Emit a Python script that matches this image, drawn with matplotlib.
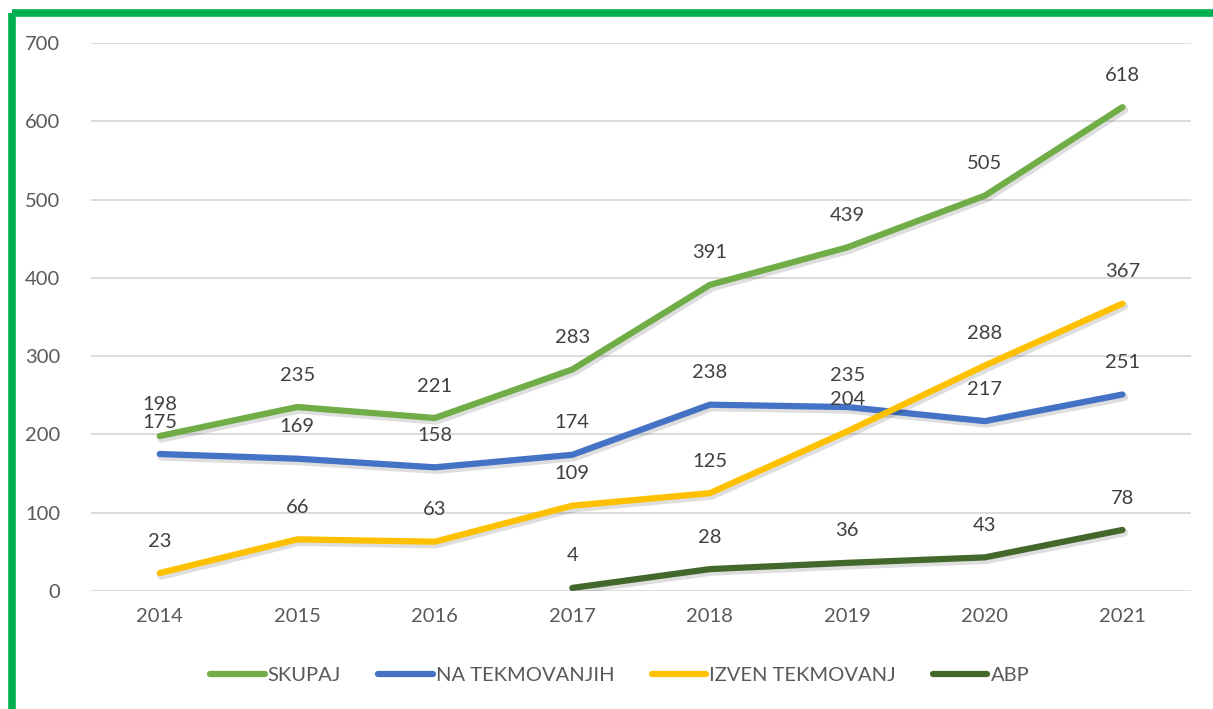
import numpy as np
import matplotlib
matplotlib.use('Agg')
import matplotlib.pyplot as plt
import matplotlib.patheffects as pe
from matplotlib.lines import Line2D

years = ['2014', '2015', '2016', '2017', '2018', '2019', '2020', '2021']
skupaj = [198, 235, 221, 283, 391, 439, 505, 618]
na_tekmovanjih = [175, 169, 158, 174, 238, 235, 217, 251]
izven_tekmovanj = [23, 66, 63, 109, 125, 204, 288, 367]
abp = [np.nan, np.nan, np.nan, 4, 28, 36, 43, 78]

series_names = ['SKUPAJ', 'NA TEKMOVANJIH', 'IZVEN TEKMOVANJ', 'ABP']
series_colors = ['#70AD47', '#4472C4', '#FFC000', '#43682B']

plt.rcParams['font.family'] = ['Lato', 'DejaVu Sans']

fig = plt.figure(figsize=(12.13, 7.09), dpi=100)
ax = fig.add_axes([0.075, 0.1664, 0.907, 0.773])

x = np.arange(len(years))
shadow = [pe.SimpleLineShadow(offset=(1.2, -1.8), shadow_color='#000000', alpha=0.13, linewidth=6),
          pe.Normal()]

for vals, name, col in zip([skupaj, na_tekmovanjih, izven_tekmovanj, abp], series_names, series_colors):
    ax.plot(x, vals, color=col, lw=4.5, solid_capstyle='round', solid_joinstyle='round',
            path_effects=shadow, label=name, zorder=3)
    for xi, v in zip(x, vals):
        if np.isnan(v):
            continue
        ax.annotate(str(int(v)), (xi, v), xytext=(0, 23), textcoords='offset points',
                    ha='center', va='center', fontsize=14.5, color='#404040', zorder=4)

ax.set_xlim(-0.5, len(years) - 0.5)
ax.set_ylim(0, 700)
ax.set_yticks(range(0, 701, 100))
ax.set_xticks(x)
ax.set_xticklabels(years)
ax.grid(axis='y', color='#D9D9D9', lw=1.3)
ax.set_axisbelow(True)
for s in ax.spines.values():
    s.set_visible(False)
ax.tick_params(length=0, labelsize=14.5, colors='#595959')
ax.tick_params(axis='y', pad=22)
ax.tick_params(axis='x', pad=12)

handles = [Line2D([0], [0], color=c, lw=4.5, solid_capstyle='round') for c in series_colors]
fig.legend(handles, series_names, loc='center', bbox_to_anchor=(0.511, 0.047), ncol=4,
           frameon=False, fontsize=14.5, labelcolor='#595959', handlelength=2.7,
           handletextpad=0.15, columnspacing=1.85)

# green frame on top and left
fig.add_artist(Line2D([0.0098, 1.0], [0.981, 0.981], color='#00B050', lw=5.5,
                      transform=fig.transFigure, solid_capstyle='butt'))
fig.add_artist(Line2D([0.0098, 0.0098], [0.0, 0.981], color='#00B050', lw=5.5,
                      transform=fig.transFigure, solid_capstyle='butt'))

fig.savefig('out.png', dpi=100)
